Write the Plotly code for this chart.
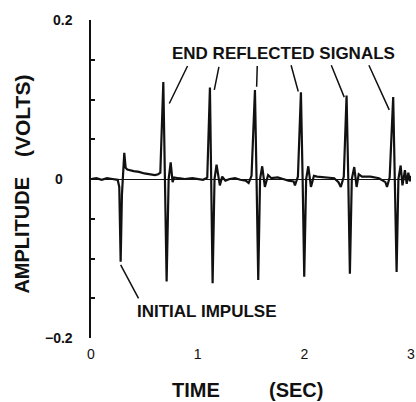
import plotly.graph_objects as go

# ---- data ----
time_s = [0.00, 0.05, 0.10, 0.15, 0.20, 0.25, 0.265, 0.278, 0.290, 0.300, 0.312, 0.325, 0.34, 0.40, 0.45, 0.50, 0.55, 0.60, 0.63,
          0.650, 0.678, 0.693, 0.709, 0.728, 0.747, 0.765, 0.78, 0.82, 0.88, 0.95, 1.00, 1.05, 1.08,
          1.09, 1.115, 1.128, 1.140, 1.158, 1.177, 1.208, 1.23, 1.26, 1.30, 1.35, 1.40, 1.45, 1.478, 1.505,
          1.537, 1.552, 1.568, 1.585, 1.605, 1.630, 1.66, 1.69, 1.75, 1.80, 1.85, 1.90, 1.912, 1.94,
          1.968, 1.984, 1.999, 2.017, 2.037, 2.062, 2.09, 2.12, 2.20, 2.28, 2.32, 2.342, 2.37,
          2.396, 2.412, 2.427, 2.445, 2.468, 2.49, 2.51, 2.54, 2.62, 2.70, 2.76, 2.775, 2.80,
          2.833, 2.849, 2.865, 2.882, 2.903, 2.92, 2.943, 2.96, 2.975, 2.99, 3.00]
amplitude_v = [0.000, 0.001, -0.001, 0.001, 0.000, -0.001, -0.010, -0.104, -0.020, 0.010, 0.033, 0.014, 0.012, 0.010, 0.009, 0.007, 0.006, 0.005, 0.006,
               0.008, 0.122, 0.000, -0.129, 0.000, 0.021, -0.004, 0.002, 0.001, 0.000, 0.001, 0.000, -0.001, 0.001,
               0.002, 0.115, 0.000, -0.131, 0.000, 0.018, -0.008, 0.003, -0.002, 0.000, 0.001, -0.001, -0.002, -0.005, 0.004,
               0.112, 0.000, -0.127, 0.000, 0.016, -0.010, 0.005, 0.001, 0.002, 0.000, -0.002, -0.003, -0.008, 0.003,
               0.109, 0.000, -0.123, 0.000, 0.016, -0.010, 0.004, 0.003, 0.002, 0.001, -0.004, -0.010, 0.003,
               0.105, 0.000, -0.119, 0.000, 0.015, -0.010, 0.006, 0.003, 0.003, 0.001, -0.004, -0.010, 0.002,
               0.103, 0.000, -0.117, 0.000, 0.017, -0.008, 0.011, -0.006, 0.008, -0.003, 0.004]

x_ticks = [0, 1, 2, 3]
y_ticks = [-0.2, -0.15, -0.1, -0.05, 0, 0.05, 0.1, 0.15, 0.2]
y_tick_labels = {0.2: "0.2", 0: "0", -0.2: "\u22120.2"}

# leader lines: (label-end t, label-end v, peak-end t, peak-end v)
reflect_leaders = [(0.912, 0.144, 0.734, 0.095),
                   (1.202, 0.143, 1.156, 0.112),
                   (1.559, 0.144, 1.553, 0.116),
                   (1.872, 0.145, 1.943, 0.110),
                   (2.247, 0.145, 2.374, 0.103),
                   (2.599, 0.145, 2.796, 0.087)]
impulse_leader = (0.453, -0.152, 0.278, -0.108)

FONT = "Liberation Sans"
INK = "#111111"

fig = go.Figure()
fig.add_trace(go.Scatter(x=time_s, y=amplitude_v, mode="lines",
                         line=dict(color=INK, width=2.2), hoverinfo="skip"))

ann = []
for (tx, ty, px, py) in reflect_leaders + [impulse_leader]:
    ann.append(dict(x=px, y=py, ax=tx, ay=ty, xref="x", yref="y", axref="x", ayref="y",
                    text="", showarrow=True, arrowhead=0, arrowwidth=1.5, arrowcolor=INK))

ann.append(dict(x=1.802, y=0.158, xref="x", yref="y", text="<b>END REFLECTED SIGNALS</b>",
                showarrow=False, font=dict(family=FONT, size=17, color=INK)))
ann.append(dict(x=1.081, y=-0.167, xref="x", yref="y", text="<b>INITIAL IMPULSE</b>",
                showarrow=False, font=dict(family=FONT, size=17, color=INK)))

# y tick labels
for val, lab in y_tick_labels.items():
    shift = -26 if val == 0 else -16
    ann.append(dict(x=0, y=val, xref="paper", yref="y", text="<b>%s</b>" % lab, showarrow=False,
                    xanchor="right", xshift=shift, font=dict(family=FONT, size=14, color=INK)))

# axis titles
ann.append(dict(x=0.98, y=-0.162, xref="x", yref="paper", text="<b>TIME</b>", showarrow=False,
                yanchor="middle", font=dict(family=FONT, size=20, color=INK)))
ann.append(dict(x=1.92, y=-0.162, xref="x", yref="paper", text="<b>(SEC)</b>", showarrow=False,
                yanchor="middle", font=dict(family=FONT, size=20, color=INK)))
ann.append(dict(x=0, xshift=-69, y=0.322, xref="paper", yref="paper", text="<b>AMPLITUDE</b>",
                showarrow=False, textangle=-90, xanchor="center", yanchor="middle",
                font=dict(family=FONT, size=20, color=INK)))
ann.append(dict(x=0, xshift=-69, y=0.698, xref="paper", yref="paper", text="<b>(VOLTS)</b>",
                showarrow=False, textangle=-90, xanchor="center", yanchor="middle",
                font=dict(family=FONT, size=21, color=INK)))

fig.update_layout(
    width=416, height=402,
    margin=dict(l=91, r=5, t=20, b=64),
    paper_bgcolor="white", plot_bgcolor="white",
    showlegend=False,
    annotations=ann,
    xaxis=dict(range=[0, 3], tickvals=x_ticks, ticktext=[str(v) for v in x_ticks],
               showgrid=False, zeroline=False, showline=False, ticks="",
               ticklabelstandoff=6, automargin=False,
               tickfont=dict(family=FONT, size=14, color=INK)),
    yaxis=dict(range=[-0.2, 0.2], tickvals=y_ticks, ticktext=[""] * len(y_ticks),
               showgrid=False, zeroline=True, zerolinecolor=INK, zerolinewidth=1,
               showline=True, linecolor=INK, linewidth=2, automargin=False,
               ticks="inside", ticklen=4, tickwidth=2, tickcolor=INK),
)

fig.write_html("out.html", config={"displayModeBar": False},
               post_script="document.body.style.margin='0px';document.body.style.overflow='hidden';")
